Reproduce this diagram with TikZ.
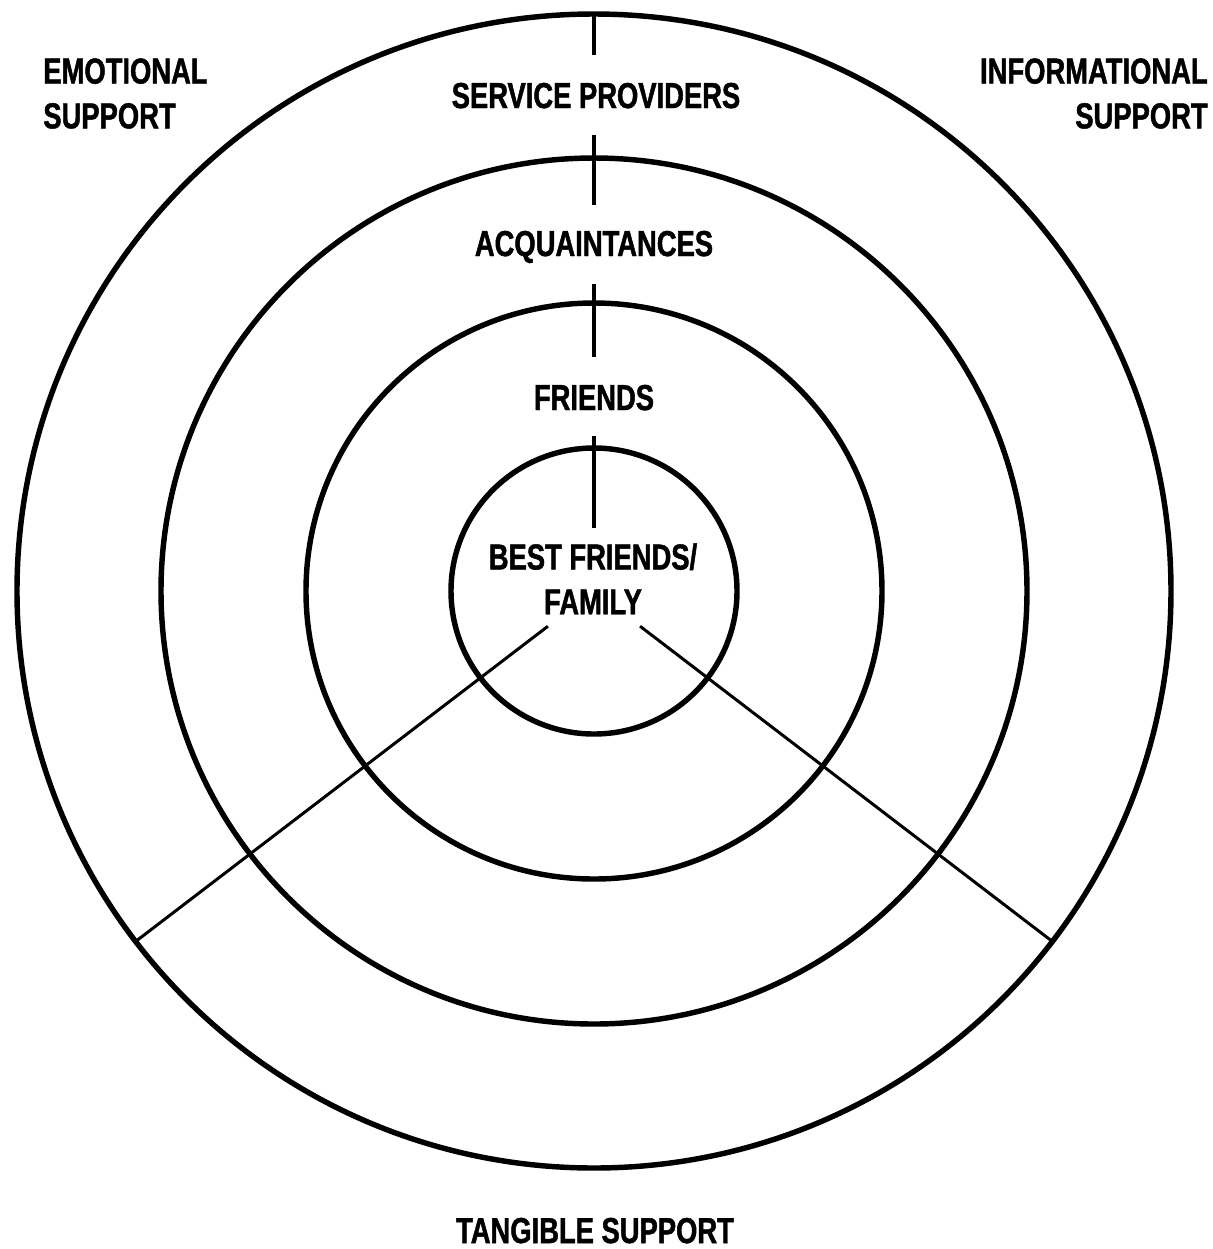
\documentclass[tikz,border=0pt]{standalone}
\usepackage{fontspec}
\usepackage{tikz}
\usetikzlibrary{calc}
\newfontfamily\condensedfont{Liberation Sans}[FakeStretch=0.76,BoldFeatures={FakeBold=1.3}]

\begin{document}
\begin{tikzpicture}
			[x=0.02cm,y=-0.02cm,line cap=butt,
			%Styles
			ring/.style={line width=3.1pt},
			tick line/.style={line width=2.4pt},
			divider/.style={line width=1.7pt},
			circle text/.style={font=\condensedfont\bfseries\fontsize{20.5}{25.5}\selectfont,inner sep=0pt},
			side text/.style={circle text,anchor=north}
			]
			
			\useasboundingbox (0,0) rectangle (1213,1249);
			\coordinate (C) at (594,591);
			
			%The rings
			\draw[ring] (C) circle (143);
			\draw[ring] (C) circle (288);
			\draw[ring] (C) circle (433);
			\draw[ring] (C) circle (577);
			
			%Ticks on the top axis
			\draw[tick line] (594,14) -- (594,55);
			\draw[tick line] (594,135) -- (594,205);
			\draw[tick line] (594,284) -- (594,357);
			\draw[tick line] (594,436) -- (594,528);
			
			%Dividers of the lower sector
			\draw[divider] ($(C)+(142.6:58)$) -- ($(C)+(142.6:576)$);
			\draw[divider] ($(C)+(37.4:58)$) -- ($(C)+(37.4:576)$);
			
			%Labels
			\node[circle text,anchor=base] (providers) at (596,108) {SERVICE PROVIDERS};
			\node[circle text,anchor=base] (acquaint) at (594,256) {ACQUAINTANCES};
			\node[circle text,anchor=base] (friends) at (594,410) {FRIENDS};
			\node[side text,align=center] (best) at (593,543) {BEST FRIENDS/\\FAMILY};
			\node[side text,anchor=north west,align=left] (emotional) at (43,58) {EMOTIONAL\\SUPPORT};
			\node[side text,anchor=north east,align=right] (informational) at (1208,58) {INFORMATIONAL\\SUPPORT};
			\node[circle text,anchor=base] (tangible) at (595,1243) {TANGIBLE SUPPORT};
		\end{tikzpicture}
\end{document}
